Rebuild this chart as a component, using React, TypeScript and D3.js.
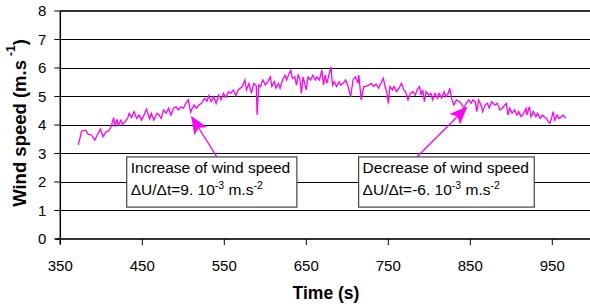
import React from "react";
import * as d3 from "d3";

const times = [
  372, 376, 381, 384, 388, 392, 395, 399, 402, 406, 409, 412, 415, 417, 419, 421, 424, 426, 429, 432,
  434, 437, 440, 443, 446, 449, 452, 455, 459, 461, 464, 468, 470, 473, 476, 479, 482, 485, 488, 491,
  494, 497, 500, 503, 506, 509, 511, 513, 516, 519, 522, 526, 529, 531, 534, 537, 540, 543, 546, 549,
  552, 555, 558, 561, 564, 567, 572, 575, 577, 580, 583, 586, 589, 590, 592, 594, 597, 600, 603, 606,
  608, 611, 613, 616, 618, 621, 624, 626, 629, 631, 633, 636, 638, 640, 642, 644, 646, 648, 650, 652,
  655, 658, 661, 663, 666, 669, 671, 673, 675, 677, 680, 682, 684, 687, 690, 692, 695, 698, 701, 704,
  707, 710, 713, 714, 717, 720, 722, 726, 729, 732, 735, 738, 741, 744, 746, 748, 750, 752, 755, 757,
  760, 763, 766, 769, 771, 774, 777, 780, 783, 785, 788, 790, 792, 794, 796, 799, 802, 804, 807, 810,
  812, 815, 818, 820, 823, 825, 827, 830, 833, 837, 840, 842, 845, 848, 851, 853, 856, 858, 860, 863,
  865, 868, 871, 873, 876, 880, 883, 886, 889, 892, 894, 896, 898, 901, 904, 907, 909, 912, 915, 918,
  919, 922, 924, 927, 930, 932, 935, 938, 940, 943, 945, 947, 949, 951, 953, 956, 958, 961, 963, 966,
];
const speeds = [
  3.3, 3.79, 3.82, 3.67, 3.65, 3.47, 3.65, 3.86, 3.59, 3.77, 3.79, 3.94, 4.26, 3.94, 4.2, 4.0, 4.17, 4.02, 4.12, 4.23,
  4.41, 4.26, 4.47, 4.23, 4.35, 4.17, 4.35, 4.56, 4.21, 4.41, 4.17, 4.41, 4.37, 4.23, 4.53, 4.41, 4.59, 4.35, 4.59, 4.64,
  4.53, 4.64, 4.59, 4.76, 4.88, 4.45, 4.59, 4.7, 4.59, 4.7, 4.76, 4.94, 4.84, 5.03, 4.82, 4.99, 4.76, 5.05, 4.88, 5.11,
  4.96, 5.17, 5.11, 5.23, 5.03, 5.23, 5.35, 5.58, 5.23, 5.46, 5.11, 5.46, 5.37, 4.35, 5.4, 5.35, 5.58, 5.4, 5.52, 5.69,
  5.35, 5.52, 5.29, 5.46, 5.29, 5.58, 5.75, 5.58, 5.81, 5.93, 5.64, 5.69, 5.4, 5.75, 5.64, 5.11, 5.69, 5.46, 5.23, 5.69,
  5.58, 5.75, 5.58, 5.69, 5.58, 5.93, 5.4, 5.75, 5.46, 5.69, 6.05, 5.4, 5.52, 5.35, 5.52, 5.4, 5.46, 5.58, 5.35, 4.99,
  5.58, 5.69, 5.46, 5.75, 4.88, 5.35, 5.35, 5.4, 5.46, 5.35, 5.44, 5.29, 5.46, 5.64, 5.35, 5.17, 4.76, 5.35, 5.23, 5.35,
  5.17, 5.29, 5.46, 5.23, 5.17, 4.88, 5.11, 5.17, 5.05, 5.23, 5.35, 5.05, 5.23, 4.82, 5.17, 5.05, 5.11, 4.88, 5.11, 4.94,
  5.11, 4.94, 5.17, 4.99, 5.11, 5.29, 4.94, 4.7, 4.88, 4.82, 4.7, 4.59, 4.76, 4.88, 4.76, 4.88, 4.82, 4.47, 4.88, 4.7,
  4.47, 4.7, 4.76, 4.59, 4.82, 4.7, 4.76, 4.53, 4.59, 4.7, 4.76, 4.35, 4.59, 4.41, 4.53, 4.35, 4.47, 4.29, 4.41, 4.59,
  4.35, 4.64, 4.29, 4.47, 4.29, 4.41, 4.23, 4.35, 4.29, 4.23, 4.12, 4.06, 4.23, 4.47, 4.17, 4.35, 4.23, 4.29, 4.35, 4.23,
];

const xTicks = [350, 450, 550, 650, 750, 850, 950];
const yTicks = [0, 1, 2, 3, 4, 5, 6, 7, 8];

const W = 590;
const H = 308;
const font = "'Liberation Sans', Arial, sans-serif";

export default function App() {
  // scales
  const x = d3.scaleLinear().domain([350, 1000]).range([60.3, 593.3]);
  const y = d3.scaleLinear().domain([0, 8]).range([239, 11]);

  const line = d3
    .line<number>()
    .x((d, i) => x(times[i]))
    .y((d) => y(d));

  // annotation boxes and arrows, in data units
  const boxes = [
    { t0: 431, t1: 638.5, l1: "Increase of wind speed", rate: "9", from: [540.7, 2.89], to: [510.2, 4.29] },
    { t0: 713.8, t1: 928, l1: "Decrease of wind speed", rate: "-6", from: [784.6, 2.87], to: [845.6, 4.62] },
  ];

  return (
    <svg width={W} height={H} style={{ position: "absolute", left: 0, top: 0, background: "#fff" }} fontFamily={font}>
      <defs>
        <marker id="head" markerUnits="userSpaceOnUse" markerWidth="18" markerHeight="15" refX="17" refY="7.5" orient="auto">
          <path d="M0,0 L18,7.5 L0,15 L4,7.5 Z" fill="#ff00ff" />
        </marker>
      </defs>

      {/* gridlines */}
      {yTicks.slice(1).map((v) => (
        <line key={v} x1={x(350)} x2={W} y1={y(v)} y2={y(v)} stroke={v === 8 ? "#333" : "#000"} strokeWidth={v === 8 ? 2 : 1} shapeRendering="crispEdges" />
      ))}

      {/* axes */}
      <line x1={x(350)} x2={x(350)} y1={y(8)} y2={y(0) + 5} stroke="#000" strokeWidth={1.5} />
      <line x1={x(350) - 5} x2={W} y1={y(0)} y2={y(0)} stroke="#333" strokeWidth={2} />
      {yTicks.map((v) => (
        <g key={v}>
          <line x1={x(350) - 6} x2={x(350)} y1={y(v)} y2={y(v)} stroke="#000" />
          <text x={x(350) - 14} y={y(v) + 5} fontSize={15} textAnchor="end">{v}</text>
        </g>
      ))}
      {xTicks.map((t) => (
        <g key={t}>
          <line x1={x(t)} x2={x(t)} y1={y(0)} y2={y(0) + 6} stroke="#000" />
          <text x={x(t)} y={271} fontSize={15} textAnchor="middle">{t}</text>
        </g>
      ))}

      {/* axis titles */}
      <text x={326} y={299} fontSize={17.5} fontWeight="bold" textAnchor="middle">Time (s)</text>
      <text transform="translate(26,123) rotate(-90)" fontSize={18.5} fontWeight="bold" textAnchor="middle">
        Wind speed (m.s
        <tspan dx="4" dy="-11" fontSize="12">-1</tspan>
        <tspan dy="11">)</tspan>
      </text>

      {/* data */}
      <path d={line(speeds) ?? ""} fill="none" stroke="#ff00ff" strokeWidth={1.3} />

      {/* annotations */}
      {boxes.map((b, i) => (
        <g key={i}>
          <line x1={x(b.from[0])} y1={y(b.from[1])} x2={x(b.to[0])} y2={y(b.to[1])} stroke="#ff00ff" strokeWidth={1.3} markerEnd="url(#head)" />
          <rect x={x(b.t0)} y={y(2.88)} width={x(b.t1) - x(b.t0)} height={y(1.12) - y(2.88)} fill="#fff" stroke="#444" strokeWidth={1.2} />
          <text x={x(b.t0) + 4} y={y(2.32)} fontSize={15.5}>{b.l1}</text>
          <text x={x(b.t0) + 4} y={y(1.54)} fontSize={15.5}>
            ΔU/Δt={b.rate}. 10
            <tspan dy="-6" fontSize="10.5">-3</tspan>
            <tspan dy="6"> m.s</tspan>
            <tspan dy="-6" fontSize="10.5">-2</tspan>
          </text>
        </g>
      ))}
    </svg>
  );
}
